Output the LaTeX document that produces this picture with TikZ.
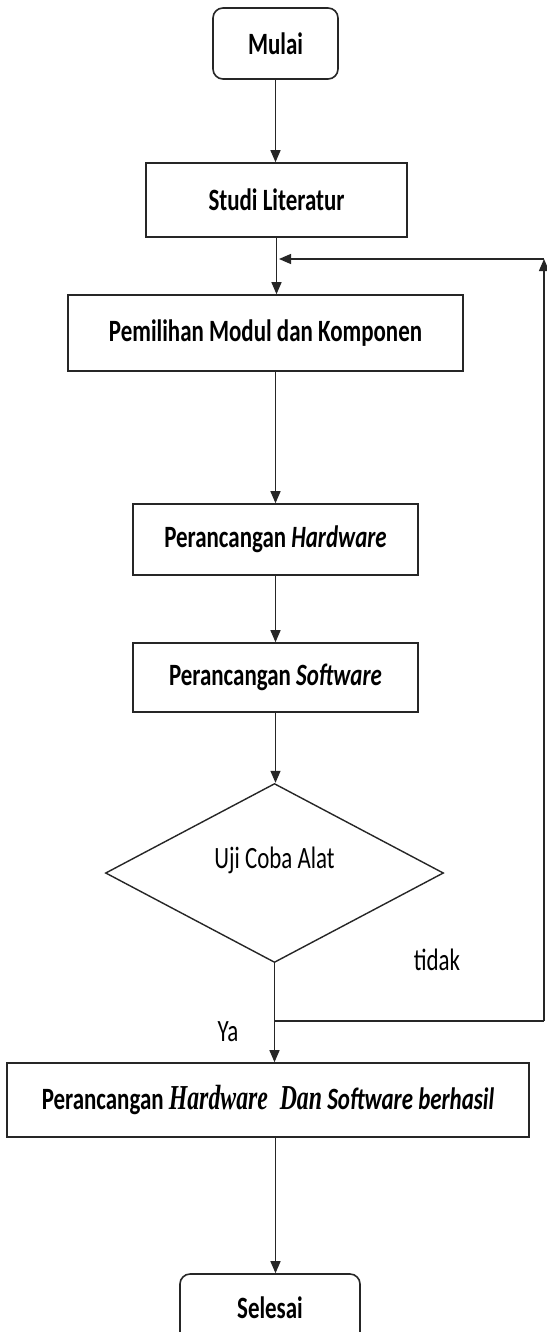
\documentclass[tikz,border=0pt]{standalone}
\usepackage{fontspec}
\setmainfont{Carlito}[FakeStretch=0.74]
\newfontfamily\cambriaish{Liberation Serif}[FakeStretch=0.68]
\usetikzlibrary{shapes.geometric,arrows.meta}
\begin{document}
\begin{tikzpicture}[x=1pt,y=-1pt,
  box/.style={draw=black!85, line width=1.6pt, rectangle, inner sep=0pt,
    font=\fontsize{31}{34}\selectfont\bfseries},
  term/.style={box, rounded corners=10pt},
  arr/.style={draw=black!85, line width=1.3pt, -{Triangle[length=12pt,width=10pt]}},
  plain/.style={draw=black!85, line width=1.3pt},
  lbl/.style={font=\fontsize{31}{34}\selectfont, inner sep=0pt}]

\useasboundingbox[fill=white] (0,0) rectangle (546,1332);

\node[term, minimum width=125pt, minimum height=71pt] (mulai) at (275.5,43.5) {Mulai};
\node[box, minimum width=261pt, minimum height=74pt] (studi) at (276.5,200) {Studi Literatur};
\node[box, minimum width=395pt, minimum height=76pt] (pemilihan) at (265.5,333) {Pemilihan Modul dan Komponen};
\node[box, minimum width=285pt, minimum height=71pt] (hardware) at (275.5,539.5) {Perancangan \textit{Hardware}};
\node[box, minimum width=285pt, minimum height=69pt] (software) at (275.5,677.5) {Perancangan \textit{Software}};
\node[diamond, draw=black!85, line width=1.4pt, minimum width=338pt, minimum height=179pt,
      inner sep=0pt, label={[lbl, yshift=13pt]center:Uji Coba Alat}] (dec) at (274.5,873) {};
\node[box, minimum width=522pt, minimum height=74pt] (final) at (268,1100)
  {Perancangan {\cambriaish\fontsize{35}{38}\selectfont\itshape Hardware\, Dan} \textit{Software berhasil}};
\node[term, minimum width=180pt, minimum height=68pt] (selesai) at (270,1308) {Selesai};

\node[lbl] (tidak) at (437,960) {tidak};
\node[lbl] (ya) at (228,1032) {Ya};

\coordinate (fbA) at (274.5,1021);
\coordinate (fbB) at (544,1021);
\coordinate (fbC) at (544,259);
\coordinate (fbD) at (279,259);

\draw[arr] (mulai.south) -- (mulai.south |- studi.north);
\draw[arr] (studi.south) -- (studi.south |- pemilihan.north);
\draw[arr] (pemilihan.south -| hardware) -- (hardware.north);
\draw[arr] (hardware.south) -- (software.north);
\draw[arr] (software.south) -- (software.south |- dec.north);
\draw[arr] (dec.south) -- (dec.south |- final.north);
\draw[plain] (fbA) -- (fbB);
\draw[arr] (fbB) -- (fbC);
\draw[arr] (fbC) -- (fbD);
\draw[arr] (final.south -| mulai) -- (mulai |- selesai.north);
\end{tikzpicture}
\end{document}
